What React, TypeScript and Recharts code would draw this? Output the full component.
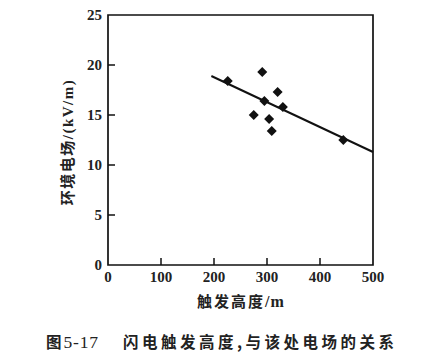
import React from 'react';
import { ComposedChart, Scatter, Line, XAxis, YAxis, ReferenceArea } from 'recharts';

const heights = [226, 291, 295, 320, 330, 275, 304, 309, 444];
const fields = [18.4, 19.3, 16.4, 17.3, 15.8, 15.0, 14.6, 13.4, 12.5];
const fitX = [195, 500];
const fitY = [18.9, 11.3];
const xTicks = [0, 100, 200, 300, 400, 500];
const yTicks = [0, 5, 10, 15, 20, 25];

const points = heights.map((h, i) => ({ x: h, y: fields[i] }));
const fitLine = fitX.map((x, i) => ({ x, y: fitY[i] }));

const SERIF = "'Liberation Serif', 'DejaVu Serif', serif";
const CJK = "'Noto Sans CJK SC', sans-serif";
const TICK_LEN = 7;

const Diamond = (props: any) => {
  const { cx, cy } = props;
  const r = 5;
  return <path d={`M${cx},${cy - r}L${cx + r},${cy}L${cx},${cy + r}L${cx - r},${cy}Z`} fill="#111" />;
};

const YTick = (props: any) => {
  const { x, y, payload } = props;
  const ax = x + 4;
  return (
    <g>
      {payload.value !== 0 && payload.value !== 25 && (
        <path d={`M${ax},${y}H${ax + TICK_LEN}`} stroke="#111" strokeWidth={1.5} fill="none" />
      )}
      <text x={x - 2} y={y} dy={5} textAnchor="end" style={{ fontFamily: SERIF, fontWeight: 'bold', fontSize: 15 }} fill="#222">
        {payload.value}
      </text>
    </g>
  );
};

const XTick = (props: any) => {
  const { x, y, payload } = props;
  const ay = y - 4;
  return (
    <g>
      {payload.value !== 0 && payload.value !== 500 && (
        <path d={`M${x},${ay}V${ay - TICK_LEN}`} stroke="#111" strokeWidth={1.5} fill="none" />
      )}
      <text x={x} y={y} dy={13} textAnchor="middle" style={{ fontFamily: SERIF, fontWeight: 'bold', fontSize: 15 }} fill="#222">
        {payload.value}
      </text>
    </g>
  );
};

const cjk: React.CSSProperties = { fontFamily: CJK, fontWeight: 'bold' };
const serif: React.CSSProperties = { fontFamily: SERIF, fontWeight: 'bold' };

export default function App() {
  return (
    <div style={{ position: 'relative', width: 429, height: 361, margin: -8, background: '#fff', color: '#222' }}>
      <ComposedChart
        width={429}
        height={330}
        margin={{ top: 15, right: 56, bottom: 35, left: 68 }}
      >
        <XAxis
          type="number"
          dataKey="x"
          domain={[0, 500]}
          ticks={xTicks}
          height={30}
          tickLine={false}
          tickSize={0}
          tickMargin={4}
          axisLine={false}
          tick={<XTick />}
        />
        <YAxis
          type="number"
          dataKey="y"
          domain={[0, 25]}
          ticks={yTicks}
          width={40}
          tickLine={false}
          tickSize={0}
          tickMargin={4}
          axisLine={false}
          tick={<YTick />}
        />
        <ReferenceArea x1={0} x2={500} y1={0} y2={25} fill="none" fillOpacity={0} stroke="#111" strokeWidth={1.7} ifOverflow="visible" />
        <Line
          data={fitLine}
          dataKey="y"
          type="linear"
          stroke="#111"
          strokeWidth={2}
          dot={false}
          isAnimationActive={false}
        />
        <Scatter
          data={points}
          dataKey="y"
          shape={<Diamond />}
          isAnimationActive={false}
        />
      </ComposedChart>
      <div
        style={{
          position: 'absolute',
          left: 67,
          top: 142,
          transform: 'translate(-50%, -50%) rotate(-90deg)',
          whiteSpace: 'nowrap',
          fontSize: 15,
          lineHeight: '18px',
        }}
      >
        <span style={{ ...cjk, letterSpacing: 1.5 }}>环境电场</span>
        <span style={{ ...serif, letterSpacing: 1.5 }}>/(kV/m)</span>
      </div>
      <div
        style={{
          position: 'absolute',
          left: 197,
          top: 292,
          whiteSpace: 'nowrap',
          fontSize: 15,
          lineHeight: '18px',
        }}
      >
        <span style={{ ...cjk, letterSpacing: 2 }}>触发高度</span>
        <span style={{ ...serif, fontSize: 16, letterSpacing: 1 }}>/m</span>
      </div>
      <div
        style={{
          position: 'absolute',
          left: 46,
          top: 332,
          whiteSpace: 'nowrap',
          fontSize: 15.5,
          lineHeight: '18px',
        }}
      >
        <span style={{ ...cjk }}>图</span>
        <span style={{ fontFamily: SERIF, fontWeight: 'normal', fontSize: 17.5, marginLeft: 2, letterSpacing: 0.8 }}>5-17</span>
      </div>
      <div
        style={{
          position: 'absolute',
          left: 123,
          top: 332,
          whiteSpace: 'nowrap',
          fontSize: 15.5,
          lineHeight: '18px',
          letterSpacing: 3.5,
          ...cjk,
        }}
      >
        闪电触发高度,与该处电场的关系
      </div>
    </div>
  );
}
